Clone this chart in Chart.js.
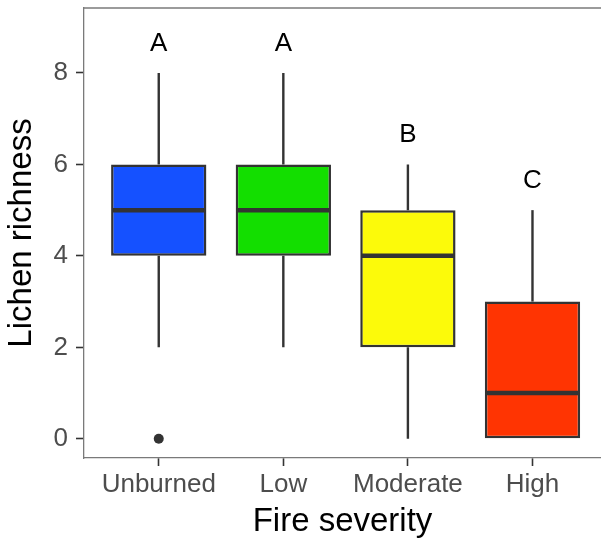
<!DOCTYPE html>
<html><head><meta charset="utf-8">
<script src="https://cdn.jsdelivr.net/npm/chart.js@4.4.1/dist/chart.umd.min.js"></script>
<style>html,body{margin:0;padding:0;background:#fff;overflow:hidden}</style>
</head><body>
<div style="width:601px;height:542px;position:relative"><canvas id="c" width="601" height="542" style="width:601px;height:542px"></canvas></div>
<script>
const categories = ['Unburned', 'Low', 'Moderate', 'High'];
const whiskerLow = [2, 2, 0, 0];
const q1 = [4, 4, 2, 0];
const median = [5, 5, 4, 1];
const q3 = [6, 6, 5, 3];
const whiskerHigh = [8, 8, 6, 5];
const outliers = [[0], [], [], []];
const letters = ['A', 'A', 'B', 'C'];
const letterY = [8.63, 8.63, 6.64, 5.64];
const fillColors = ['#1551ff', '#13de00', '#fcfa0a', '#ff3402'];
const yTicks = [0, 2, 4, 6, 8];

const FONT = "'Liberation Sans', Arial, Helvetica, sans-serif";
const LINE = '#333333';

const boxData = categories.map((c, i) => ({ x: i + 1, y: [q1[i], q3[i]] }));
const outlierData = [];
outliers.forEach((arr, i) => arr.forEach(v => outlierData.push({ x: i + 1, y: v })));

const boxPlugin = {
  id: 'boxExtras',
  beforeDatasetsDraw(chart) {
    const { ctx, scales: { x, y } } = chart;
    ctx.save();
    ctx.strokeStyle = LINE;
    ctx.lineWidth = 2.4;
    categories.forEach((c, i) => {
      const px = x.getPixelForValue(i + 1);
      ctx.beginPath();
      ctx.moveTo(px, y.getPixelForValue(whiskerHigh[i]));
      ctx.lineTo(px, y.getPixelForValue(q3[i]));
      ctx.moveTo(px, y.getPixelForValue(q1[i]));
      ctx.lineTo(px, y.getPixelForValue(whiskerLow[i]));
      ctx.stroke();
    });
    ctx.restore();
  },
  afterDatasetsDraw(chart) {
    const { ctx, chartArea, scales: { x, y } } = chart;
    const meta = chart.getDatasetMeta(0);
    ctx.save();
    ctx.strokeStyle = LINE;
    ctx.lineWidth = 4.5;
    meta.data.forEach((bar, i) => {
      const half = bar.width / 2;
      const py = y.getPixelForValue(median[i]);
      ctx.beginPath();
      ctx.moveTo(bar.x - half + 1, py);
      ctx.lineTo(bar.x + half - 1, py);
      ctx.stroke();
    });
    ctx.fillStyle = '#000';
    ctx.font = '26px ' + FONT;
    ctx.textAlign = 'center';
    ctx.textBaseline = 'middle';
    letters.forEach((t, i) => {
      ctx.fillText(t, x.getPixelForValue(i + 1), y.getPixelForValue(letterY[i]));
    });
    // top panel border
    ctx.strokeStyle = '#7a7a7a';
    ctx.lineWidth = 1.3;
    ctx.beginPath();
    ctx.moveTo(chartArea.left - 0.6, chartArea.top);
    ctx.lineTo(chartArea.right, chartArea.top);
    ctx.stroke();
    ctx.restore();
  }
};

new Chart(document.getElementById('c'), {
  type: 'bar',
  data: {
    datasets: [
      {
        type: 'bar',
        data: boxData,
        backgroundColor: fillColors,
        borderColor: LINE,
        borderWidth: 2.5,
        borderSkipped: false,
        barPercentage: 0.765,
        categoryPercentage: 1,
        order: 2
      },
      {
        type: 'scatter',
        data: outlierData,
        pointRadius: 5,
        pointBackgroundColor: LINE,
        pointBorderWidth: 0,
        order: 1
      }
    ]
  },
  options: {
    responsive: false,
    maintainAspectRatio: false,
    animation: false,
    devicePixelRatio: 1,
    layout: { autoPadding: false, padding: { left: 0, right: 0, top: 8, bottom: 0 } },
    plugins: { legend: { display: false }, tooltip: { enabled: false } },
    scales: {
      x: {
        type: 'linear',
        offset: false,
        min: 0.4,
        max: 4.55,
        afterBuildTicks: s => { s.ticks = categories.map((c, i) => ({ value: i + 1 })); },
        afterFit: s => { s.height = 84; s.paddingLeft = 0; s.paddingRight = 0; },
        ticks: {
          autoSkip: false,
          maxRotation: 0,
          padding: 3,
          color: '#4d4d4d',
          font: { family: FONT, size: 26 },
          callback: v => categories[v - 1] || ''
        },
        grid: { offset: false, drawOnChartArea: false, drawTicks: true, tickLength: 8, tickColor: LINE, tickWidth: 1.6 },
        border: { display: true, color: '#7a7a7a', width: 1.3 },
        title: {
          display: true, text: 'Fire severity', color: '#000',
          font: { family: FONT, size: 33, lineHeight: 1 },
          padding: { top: 0, bottom: 4 }
        }
      },
      y: {
        type: 'linear',
        min: -0.42,
        max: 9.42,
        afterBuildTicks: s => { s.ticks = yTicks.map(v => ({ value: v })); },
        afterFit: s => { s.width = 84; s.paddingTop = 0; s.paddingBottom = 0; },
        ticks: {
          padding: 8,
          color: '#4d4d4d',
          font: { family: FONT, size: 26 }
        },
        grid: { drawOnChartArea: false, drawTicks: true, tickLength: 8, tickColor: LINE, tickWidth: 1.6 },
        border: { display: true, color: '#7a7a7a', width: 1.3 },
        title: {
          display: true, text: 'Lichen richness', color: '#000',
          font: { family: FONT, size: 33, lineHeight: 1 },
          padding: { top: 5.5, bottom: 0 }
        }
      }
    }
  },
  plugins: [boxPlugin]
});
</script>
</body></html>
